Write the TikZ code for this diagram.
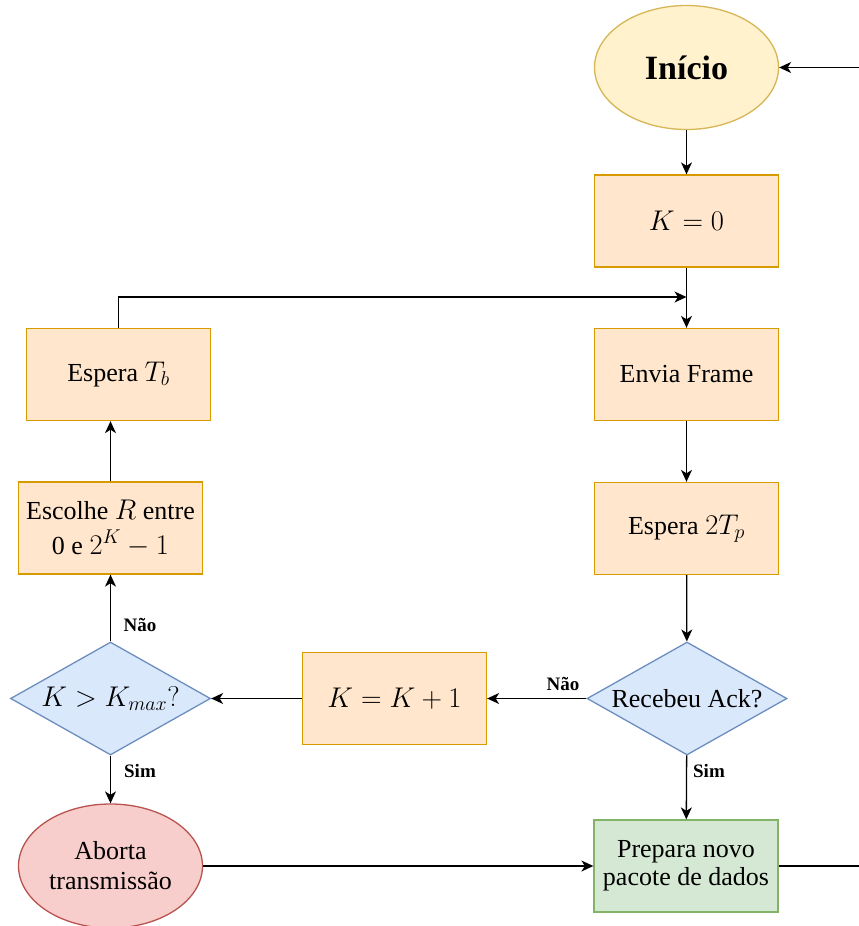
\RequirePackage{fix-cm}
\documentclass[tikz,border=0pt]{standalone}
\usepackage[no-math]{fontspec}
\setmainfont{Liberation Serif}
\usetikzlibrary{shapes.geometric,arrows.meta}
\definecolor{yfill}{HTML}{FFF2CC}\definecolor{ydraw}{HTML}{D6B656}
\definecolor{ofill}{HTML}{FFE6CC}\definecolor{odraw}{HTML}{D79B00}
\definecolor{bfill}{HTML}{DAE8FC}\definecolor{bdraw}{HTML}{6C8EBF}
\definecolor{rfill}{HTML}{F8CECC}\definecolor{rdraw}{HTML}{B85450}
\definecolor{gfill}{HTML}{D5E8D4}\definecolor{gdraw}{HTML}{82B366}
\newcommand{\mth}[1]{{\fontsize{28.5}{33}\selectfont$#1$}}
\tikzset{
  box/.style={rectangle, draw=odraw, fill=ofill, line width=1.3pt, minimum width=184, minimum height=92, inner sep=0pt, align=center},
  greenbox/.style={box, draw=gdraw, fill=gfill},
  dia/.style={diamond, draw=bdraw, fill=bfill, line width=1.3pt, minimum width=200, minimum height=113, inner sep=0pt},
  ell/.style={ellipse, line width=1.3pt, minimum width=184, minimum height=124, inner sep=0pt, align=center},
  arr/.style={line width=1.3pt, -{Stealth[length=12pt,width=11pt,inset=3.5pt]}},
  ln/.style={line width=1.3pt},
  lbl/.style={font=\fontsize{19}{22}\selectfont\bfseries, inner sep=0pt}
}
\begin{document}
\begin{tikzpicture}[x=1pt,y=-1pt,font=\fontsize{26}{30}\selectfont]
\useasboundingbox (0,0) rectangle (859,926);
\node[ell, draw=ydraw, fill=yfill, font=\fontsize{34}{40}\selectfont\bfseries] (start) at (686.5,67.5) {Início};
\node[box] (k0) at (686.5,221) {\mth{K=0}};
\node[box] (envia) at (686.5,374.5) {Envia Frame};
\node[box] (esp2) at (686.5,528.5) {Espera \mth{2T_p}};
\node[dia] (ack) at (687,698.5) {\makebox[0pt]{Recebeu Ack?}};
\node[box] (kk1) at (394.5,698.5) {\mth{K=K+1}};
\node[dia] (kmax) at (110.5,698.5) {\makebox[0pt]{\mth{K>K_{max}?}}};
\node[box] (escolhe) at (110.5,528) {Escolhe \mth{R} entre\\[5pt]0 e \mth{2^K-1}};
\node[box] (tb) at (118.5,374.5) {Espera \mth{T_b}};
\node[ell, draw=rdraw, fill=rfill] (aborta) at (110.5,866) {Aborta\\transmissão};
\node[greenbox] (prep) at (686,866) {\raisebox{-3pt}{\shortstack{Prepara novo\\[1pt]pacote de dados}}};
\coordinate (in) at (859,67.5);
\coordinate (out) at (859,866);
\coordinate (j) at (686.5,297);
\draw[arr] (in) -- (start);
\draw[arr] (start) -- (k0);
\draw[arr] (k0) -- (envia);
\draw[arr] (tb.north) |- (j);
\draw[arr] (envia) -- (esp2);
\draw[arr] (esp2) -- (ack);
\draw[arr] (ack) -- (kk1);
\draw[arr] (kk1) -- (kmax);
\draw[arr] (kmax) -- (escolhe);
\draw[arr] (escolhe.north) -- (escolhe.north |- tb.south);
\draw[arr] (kmax) -- (aborta);
\draw[arr] (ack) -- (prep);
\draw[arr] (aborta) -- (prep);
\draw[ln] (prep) -- (out);
\node[lbl] (l1) at (563,684) {Não};
\node[lbl] (l2) at (140,625) {Não};
\node[lbl] (l3) at (140,771) {Sim};
\node[lbl] (l4) at (709,771) {Sim};
\end{tikzpicture}
\end{document}
